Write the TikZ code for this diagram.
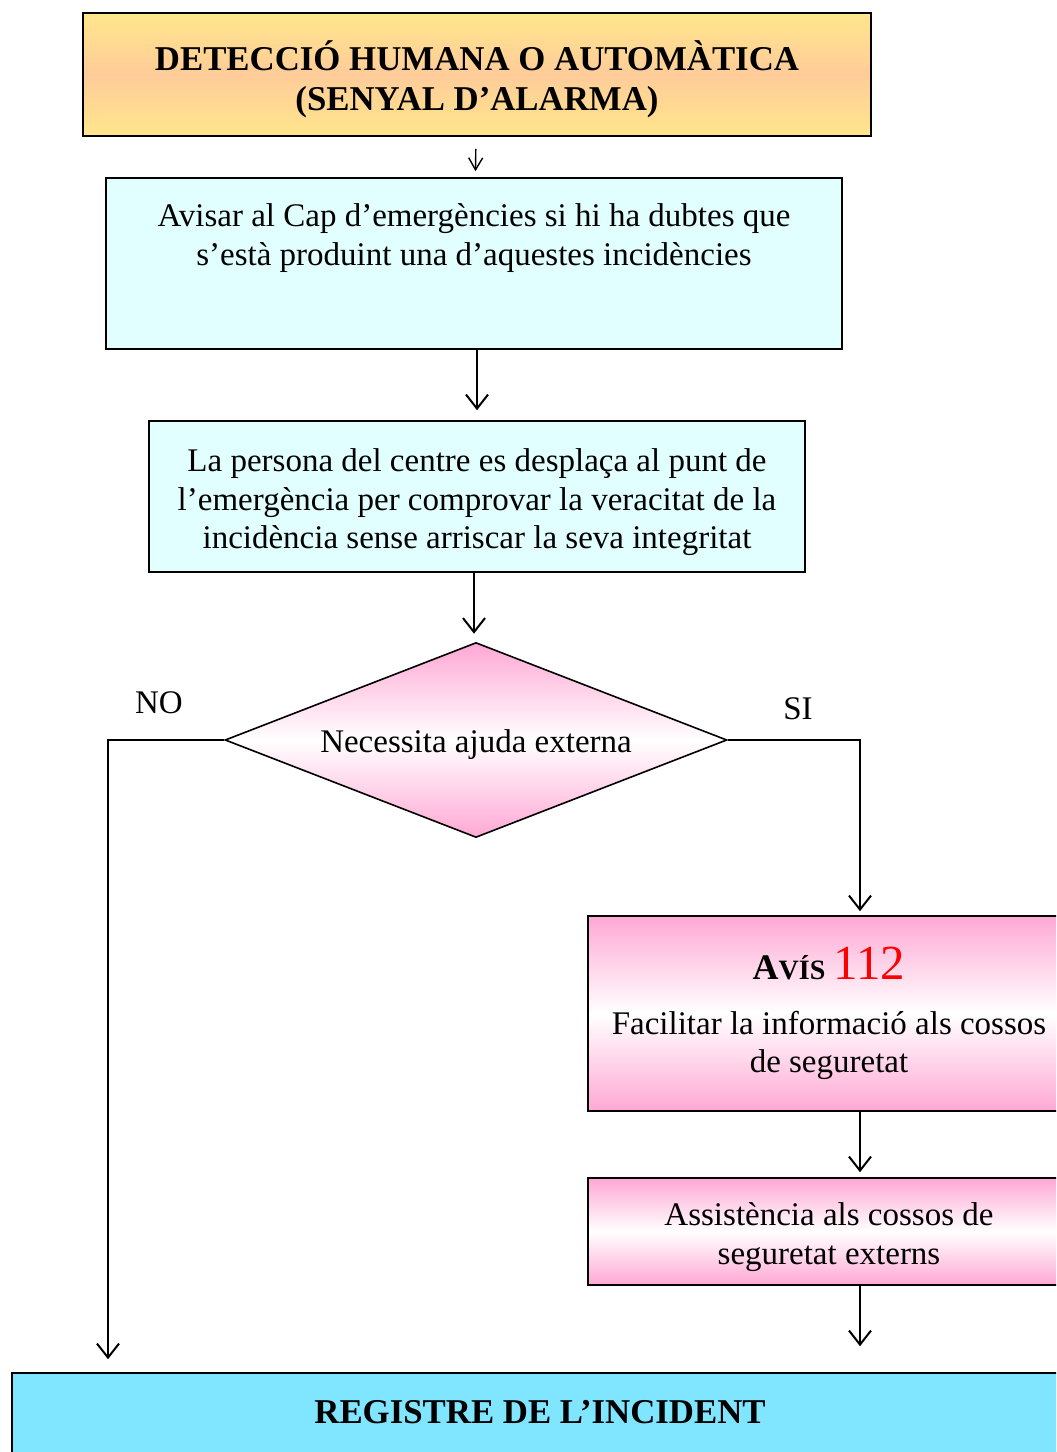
\documentclass[tikz,border=0pt]{standalone}
\usepackage{fontspec}
\setmainfont{Liberation Serif}
\usetikzlibrary{shapes.geometric,arrows.meta}
\definecolor{Groc}{RGB}{255,230,140}
\definecolor{Taronja}{RGB}{255,204,153}
\definecolor{Cel}{RGB}{225,255,255}
\definecolor{Rosa}{RGB}{255,168,212}
\definecolor{Blau}{RGB}{128,229,255}
\newcommand\Baixa[1]{\rule{0pt}{#1}}

\begin{document}
\begin{tikzpicture}[x=0.5pt,y=-0.5pt]

\tikzset{CaixaStyle/.style = {draw, line width=0.8pt, inner sep=0pt, align=center,
                              font=\fontsize{16.5}{19.3}\selectfont},
         RosaStyle/.style  = {CaixaStyle, top color=Rosa, bottom color=Rosa, middle color=white},
         FletxaStyle/.style = {line width=1pt, -{Straight Barb[length=7pt,width=11pt,line width=1pt]}},
         EtiquetaStyle/.style = {font=\fontsize{16.5}{19.3}\selectfont, inner sep=0pt}}

\useasboundingbox (0,0) rectangle (1056,1452);
\clip (0,0) rectangle (1056,1452);

\node[CaixaStyle, minimum width=394pt, minimum height=61.5pt,
      top color=Groc, bottom color=Groc, middle color=Taronja,
      font=\fontsize{17.4}{19.8}\selectfont\bfseries] (deteccio) at (477,74.5)
      {\Baixa{19.5pt}DETECCIÓ HUMANA O AUTOMÀTICA\\(SENYAL D’ALARMA)};
\node[CaixaStyle, minimum width=368pt, minimum height=85.5pt, fill=Cel] (avisar) at (474,263.5)
      {Avisar al Cap d’emergències si hi ha dubtes que\\s’està produint una d’aquestes incidències\rule[-29pt]{0pt}{29pt}};
\node[CaixaStyle, minimum width=328pt, minimum height=75.5pt, fill=Cel] (persona) at (477,496.5)
      {\Baixa{17.3pt}La persona del centre es desplaça al punt de\\l’emergència per comprovar la veracitat de la\\incidència sense arriscar la seva integritat};
\node[RosaStyle, shape=diamond, aspect=2.6, minimum width=251pt, minimum height=97.5pt] (ajuda) at (476,740)
      {\Baixa{16.3pt}Necessita ajuda externa};
\node[RosaStyle, minimum width=241pt, minimum height=97.5pt] (avis) at (829,1013.5)
      {\textbf{\fontsize{18}{20}\selectfont A\fontsize{14}{20}\selectfont VÍS} {\fontsize{24.5}{24}\selectfont\color{red}112}\\[8pt]
       Facilitar la informació als cossos\\de seguretat};
\node[RosaStyle, minimum width=241pt, minimum height=53.5pt] (assist) at (829,1231.5)
      {\Baixa{17.3pt}Assistència als cossos de\\seguretat externs};
\node[CaixaStyle, minimum width=528pt, minimum height=41pt, fill=Blau,
      font=\fontsize{17.4}{19.8}\selectfont\bfseries] (registre) at (540,1414)
      {REGISTRE DE L’INCIDENT\rule[-2pt]{0pt}{2pt}};

\node[EtiquetaStyle] (no) at (159,703) {NO};
\node[EtiquetaStyle] (si) at (798,709) {SI};

\coordinate (colno) at (108,0);
\coordinate (colsi) at (860,0);

\draw[line width=0.7pt, -{Straight Barb[length=6pt,width=7pt,line width=0.7pt]},
      shorten <=6pt, shorten >=3pt] (deteccio) -- (avisar);
\draw[FletxaStyle, shorten >=5pt] (avisar.south -| persona) -- (persona);
\draw[FletxaStyle, shorten >=4pt] (persona.south -| 474,0) -- (ajuda.north -| 474,0);
\draw[FletxaStyle, shorten >=6.5pt] (ajuda.west) -| (colno |- registre.north);
\draw[FletxaStyle, shorten >=2pt] (ajuda.east) -| (colsi |- avis.north);
\draw[FletxaStyle, shorten >=2.5pt] (colsi |- avis.south) -- (colsi |- assist.north);
\draw[FletxaStyle, shorten >=13pt] (colsi |- assist.south) -- (colsi |- registre.north);

\end{tikzpicture}
\end{document}
